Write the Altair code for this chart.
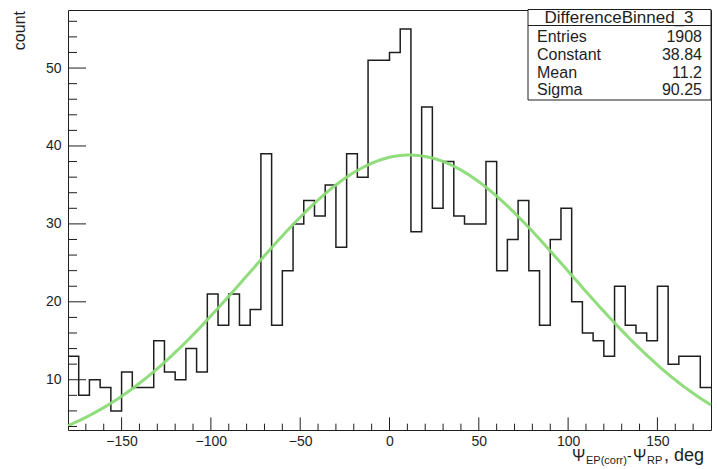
import altair as alt
import pandas as pd

# ---------------- data ----------------
BIN_LOW = -180
BIN_HIGH = 180
BIN_WIDTH = 6
counts = [13, 8, 10, 9, 6, 11, 9, 9, 15, 11,
          10, 14, 11, 21, 17, 21, 17, 19, 39, 17,
          24, 30, 33, 31, 35, 27, 39, 36, 51, 51,
          52, 55, 29, 45, 32, 38, 31, 30, 30, 38,
          24, 28, 33, 24, 17, 28, 32, 20, 16, 15,
          13, 22, 17, 16, 15, 22, 12, 13, 13, 9]

x_major_ticks = [-150, -100, -50, 0, 50, 100, 150]
x_minor_ticks = [-170, -160, -140, -130, -120, -110, -90, -80, -70, -60,
                 -40, -30, -20, -10, 10, 20, 30, 40, 60, 70, 80, 90,
                 110, 120, 130, 140, 160, 170]
y_major_ticks = [10, 20, 30, 40, 50]
y_minor_ticks = [4, 6, 8, 12, 14, 16, 18, 22, 24, 26, 28, 32, 34, 36, 38,
                 42, 44, 46, 48, 52, 54, 56]

stats_title = "DifferenceBinned_3"
stats_names = ["Entries", "Constant", "Mean", "Sigma"]
stats_values = ["1908", "38.84", "11.2", "90.25"]

FIT_CONSTANT = 38.84
FIT_MEAN = 11.2
FIT_SIGMA = 90.25

X_DOMAIN = [-180, 180]
Y_DOMAIN = [3.55, 57.45]

y_title = "count"

# ---------------- layout ----------------
W, H = 643, 420
FONT = "Liberation Sans"
INK = "#1e1e1e"

edges = [BIN_LOW + i * BIN_WIDTH for i in range(len(counts))] + [BIN_HIGH]
hist_df = pd.DataFrame({"x": edges, "y": counts + [counts[-1]]})

xs = alt.Scale(domain=X_DOMAIN, nice=False, zero=False)
ys = alt.Scale(domain=Y_DOMAIN, nice=False, zero=False)

xaxis = alt.Axis(values=x_major_ticks, title=None, domain=False, ticks=False,
                 grid=False, labelFont=FONT, labelFontSize=14, labelColor=INK,
                 labelPadding=4)
yaxis = alt.Axis(values=y_major_ticks, title=None, domain=False, ticks=False,
                 grid=False, labelFont=FONT, labelFontSize=14, labelColor=INK,
                 labelPadding=7)

hist = alt.Chart(hist_df).mark_line(
    interpolate="step-after", color=INK, strokeWidth=1.5
).encode(
    x=alt.X("x:Q", scale=xs, axis=xaxis),
    y=alt.Y("y:Q", scale=ys, axis=yaxis),
)

fit = alt.Chart(alt.sequence(BIN_LOW, BIN_HIGH + 0.5, 2, as_="x")).transform_calculate(
    y=f"{FIT_CONSTANT}*exp(-0.5*pow((datum.x-{FIT_MEAN})/{FIT_SIGMA},2))"
).mark_line(color="#8bda76", strokeWidth=3, opacity=0.95).encode(
    x=alt.X("x:Q", scale=xs, axis=xaxis),
    y=alt.Y("y:Q", scale=ys, axis=yaxis),
)


def xticks(vals, length):
    return alt.Chart(pd.DataFrame({"x": vals})).mark_rule(color=INK, strokeWidth=1).encode(
        x=alt.X("x:Q", scale=xs, axis=xaxis),
        y=alt.value(H),
        y2=alt.value(H - length),
    )


def yticks(vals, length):
    return alt.Chart(pd.DataFrame({"y": vals})).mark_rule(color=INK, strokeWidth=1).encode(
        y=alt.Y("y:Q", scale=ys, axis=yaxis),
        x=alt.value(0),
        x2=alt.value(length),
    )


one = pd.DataFrame({"a": [0]})

# stats box
box = alt.Chart(one).mark_rect(fill="white", stroke=INK, strokeWidth=1).encode(
    x=alt.value(460), x2=alt.value(W), y=alt.value(-0.5), y2=alt.value(90)
)
sep = alt.Chart(one).mark_rule(color=INK, strokeWidth=1).encode(
    x=alt.value(460), x2=alt.value(W), y=alt.value(15.5)
)
box_title = alt.Chart(pd.DataFrame({"t": [stats_title]})).mark_text(
    align="center", baseline="alphabetic", font=FONT, fontSize=17, color=INK
).encode(text="t:N", x=alt.value(551), y=alt.value(12.5))

row_baselines = [31.7, 49.5, 67.5, 85]
stat_layers = []
for name, val, yb in zip(stats_names, stats_values, row_baselines):
    stat_layers.append(
        alt.Chart(pd.DataFrame({"t": [name]})).mark_text(
            align="left", baseline="alphabetic", font=FONT, fontSize=16, color=INK
        ).encode(text="t:N", x=alt.value(469), y=alt.value(yb))
    )
    stat_layers.append(
        alt.Chart(pd.DataFrame({"t": [val]})).mark_text(
            align="right", baseline="alphabetic", font=FONT, fontSize=16, color=INK
        ).encode(text="t:N", x=alt.value(634), y=alt.value(yb))
    )

# y title (rotated, top-aligned)
ytitle = alt.Chart(pd.DataFrame({"t": [y_title]})).mark_text(
    align="right", baseline="alphabetic", angle=270, font=FONT, fontSize=16, color=INK
).encode(text="t:N", x=alt.value(-43), y=alt.value(1))


# x title with subscripts
def txt(s, x, y, size, align="left"):
    return alt.Chart(pd.DataFrame({"t": [s]})).mark_text(
        align=align, baseline="alphabetic", font=FONT, fontSize=size, color=INK
    ).encode(text="t:N", x=alt.value(x), y=alt.value(y))


xtitle_parts = [
    txt("\u03a8", 504, 451, 16),
    txt("EP(corr)", 518, 453.5, 11),
    txt("-", 559, 451, 14),
    txt("\u03a8", 565, 451, 16),
    txt("RP", 579, 453.5, 11),
    txt(", deg", 596, 451, 18),
]

chart = alt.layer(
    hist, fit,
    xticks(x_major_ticks, 12.6), xticks(x_minor_ticks, 6.3),
    yticks(y_major_ticks, 18), yticks(y_minor_ticks, 9),
    box, sep, box_title, *stat_layers, ytitle, *xtitle_parts,
).properties(
    width=W, height=H,
    autosize=alt.AutoSizeParams(type="none"),
    padding={"left": 68, "top": 10, "right": 6, "bottom": 39},
    background="white",
).configure_view(stroke=INK, strokeWidth=1)

chart.save("out.html", embed_options={"renderer": "svg", "actions": False})
